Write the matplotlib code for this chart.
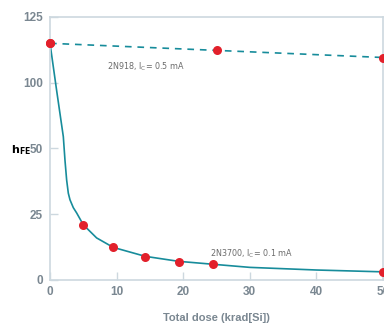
import numpy as np
import matplotlib
matplotlib.use("Agg")
import matplotlib.pyplot as plt

# ==========================================
# DATA
# ==========================================

# 2N918, Ic = 0.5 mA (dashed)
dose_918 = [0, 25, 50]
hfe_918 = [115, 112.3, 109.6]

# 2N3700, Ic = 0.1 mA measured points
dose_3700 = [0, 5, 9.5, 14.3, 19.3, 24.4, 50]
hfe_3700 = [115, 20.8, 12.4, 8.8, 6.9, 6.0, 3.1]

# 2N3700 fitted curve
curve_x = [0, 1, 2, 2.25, 2.5, 2.75, 3, 3.5, 4, 5, 7, 9.5, 14.3, 19.3, 24.4, 30, 40, 50]
curve_y = [115, 94, 59, 45.5, 38, 33, 30.5, 27.5, 25.5, 21, 16, 12.4, 9.0, 7.1, 6.0, 4.8, 3.8, 3.1]

yticks = [0, 25, 50, 100, 125]
xticks = [0, 10, 20, 30, 40, 50]

# ==========================================
# STYLE
# ==========================================

TEAL = "#178c9b"
RED = "#e2202b"
GRID = "#cdd8df"
GRAY = "#7a8791"

# piecewise y axis (ticks evenly spaced)
def fwd(y):
    return np.interp(y, [0, 25, 50, 100, 125], [0, 25, 50, 75, 100])

def inv(v):
    return np.interp(v, [0, 25, 50, 75, 100], [0, 25, 50, 100, 125])

fig = plt.figure(figsize=(3.84, 3.24), dpi=100)
ax = fig.add_axes([50 / 384, 1 - 280 / 324, 333 / 384, 263 / 324])
ax.set_yscale("function", functions=(fwd, inv))

ax.plot(curve_x, curve_y, color=TEAL, lw=1.2, clip_on=False, zorder=2)
ax.plot(dose_918, hfe_918, color=TEAL, lw=1.2, ls=(0, (4, 3.5)), clip_on=False, zorder=2)

ax.plot(dose_3700, hfe_3700, "o", color=RED, ms=6.5, mec="none", clip_on=False, zorder=3)
ax.plot(dose_918, hfe_918, "o", color=RED, ms=6.5, mec="none", clip_on=False, zorder=3)

ax.set_xlim(0, 50)
ax.set_ylim(0, 125)
ax.set_xticks(xticks)
ax.set_yticks(yticks)
ax.set_yticklabels([str(t) for t in yticks])

for s in ax.spines.values():
    s.set_color(GRID)
    s.set_linewidth(1.2)

ax.tick_params(direction="in", length=6, width=1, color=GRID,
               labelcolor=GRAY, labelsize=8.5)
ax.tick_params(axis="y", pad=5)
ax.tick_params(axis="x", pad=4)
for lab in ax.get_xticklabels() + ax.get_yticklabels():
    lab.set_fontweight("bold")
    lab.set_family("Liberation Sans")

ax.text(8.5, 106.2, r"2N918, I$_\mathrm{C}$= 0.5 mA", color="#6b6b6b",
        fontsize=5.8, ha="left", va="center")
ax.text(24.0, 10.0, r"2N3700, I$_\mathrm{C}$= 0.1 mA", color="#6b6b6b",
        fontsize=5.8, ha="left", va="center")

fig.text(11 / 384, 1 - 150 / 324, r"$\mathbf{h}_{\mathbf{FE}}$", color="black",
         fontsize=8, ha="left", va="center")
fig.text(216 / 384, 1 - 318 / 324, "Total dose (krad[Si])", color=GRAY,
         fontsize=8, fontweight="bold", family="Liberation Sans",
         ha="center", va="center")

fig.savefig("out.png", dpi=100)
plt.close()
